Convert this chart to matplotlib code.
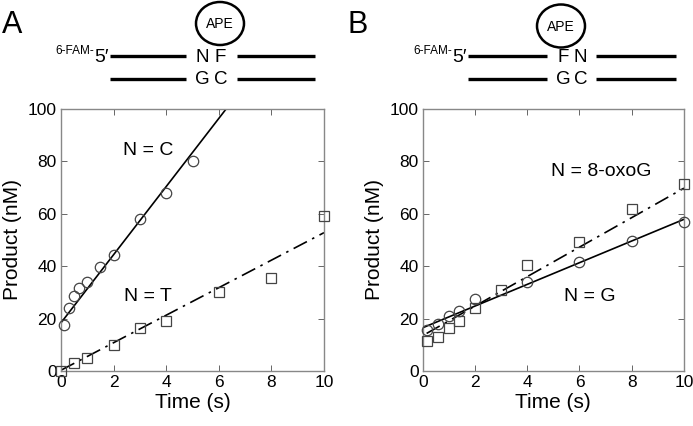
import numpy as np
import matplotlib
matplotlib.use("Agg")
from matplotlib import pyplot as plt
from matplotlib.patches import Ellipse

plt.rcParams['font.family'] = ['Liberation Sans', 'DejaVu Sans']

# panel A: N = C (circles), N = T (squares)
tA_c = [0.1, 0.3, 0.5, 0.7, 1.0, 1.5, 2.0, 3.0, 4.0, 5.0]
pA_c = [17.5, 23.9, 28.6, 31.5, 33.8, 39.8, 44.3, 57.9, 67.9, 80.0]
tA_t = [0, 0.5, 1, 2, 3, 4, 6, 8, 10]
pA_t = [0, 3.1, 5.0, 10.1, 16.5, 19.1, 30.1, 35.6, 59.1]
fitA_c = (18.4, 13.0)   # intercept, slope
fitA_t = (0.3, 5.25)

# panel B: N = G (circles), N = 8-oxoG (squares)
tB_g = [0.15, 0.6, 1.0, 1.4, 2.0, 4.0, 6.0, 8.0, 10.0]
pB_g = [15.6, 17.8, 21.1, 22.9, 27.4, 34.1, 41.7, 49.7, 57.0]
tB_o = [0.15, 0.6, 1.0, 1.4, 2.0, 3.0, 4.0, 6.0, 8.0, 10.0]
pB_o = [11.6, 13.1, 16.5, 19.2, 23.9, 30.9, 40.5, 49.4, 61.7, 71.4]
fitB_g = (16.5, 4.14)
fitB_o = (13.5, 5.63)

xticks = [0, 2, 4, 6, 8, 10]
yticks = [0, 20, 40, 60, 80, 100]

W, H = 693, 426
fig = plt.figure(figsize=(W / 100, H / 100), dpi=100)

dashdot = (0, (9, 3.5, 1.5, 3.5))
mk = dict(ls='none', mfc='none', mec='#444444', mew=0.9, zorder=3)


def setup(ax):
    ax.set_xlim(0, 10)
    ax.set_ylim(0, 100)
    ax.set_xticks(xticks)
    ax.set_yticks(yticks)
    ax.tick_params(direction='in', length=4, width=0.7, color='#666666',
                   top=True, right=True, labelsize=12.5, pad=3)
    for s in ax.spines.values():
        s.set_color('#888888')
        s.set_linewidth(1.0)
    ax.set_xlabel('Time (s)', fontsize=15, labelpad=2)
    ax.set_ylabel('Product (nM)', fontsize=15, labelpad=4)


def fitline(ax, fit, x0, x1, ls):
    xs = np.linspace(x0, x1, 50)
    ax.plot(xs, fit[0] + fit[1] * xs, color='black', lw=1.2, ls=ls, zorder=2)


axA = fig.add_axes([61 / W, 1 - 371 / H, 263 / W, 262 / H])
setup(axA)
fitline(axA, fitA_c, 0, 10, '-')
fitline(axA, fitA_t, 0, 10, dashdot)
axA.plot(tA_c, pA_c, marker='o', ms=7.5, **mk, clip_on=False)
axA.plot(tA_t, pA_t, marker='s', ms=7.5, **mk, clip_on=False)
axA.text(3.3, 84.3, 'N = C', fontsize=14, ha='center', va='center')
axA.text(3.3, 28.6, 'N = T', fontsize=14, ha='center', va='center')

axB = fig.add_axes([422.7 / W, 1 - 371 / H, 261.3 / W, 262 / H])
setup(axB)
fitline(axB, fitB_g, 0, 10, '-')
fitline(axB, fitB_o, 0.15, 10, dashdot)
axB.plot(tB_g, pB_g, marker='o', ms=7.5, **mk, clip_on=False)
axB.plot(tB_o, pB_o, marker='s', ms=7.5, **mk, clip_on=False)
axB.text(6.85, 76.3, 'N = 8-oxoG', fontsize=14, ha='center', va='center')
axB.text(6.4, 28.6, 'N = G', fontsize=14, ha='center', va='center')

# schematic on top, drawn in pixel coordinates
top = fig.add_axes([0, 0, 1, 1], zorder=-1)
top.set_xlim(0, W)
top.set_ylim(H, 0)
top.axis('off')


def duplex(x0, top_y, bot_y, l_end, r_start, x1, top_txt, top_x, bot_x, circ):
    for y in (top_y, bot_y):
        top.plot([x0, l_end], [y, y], color='black', lw=2.4, solid_capstyle='butt')
        top.plot([r_start, x1], [y, y], color='black', lw=2.4, solid_capstyle='butt')
    for ch, cx in zip(top_txt, top_x):
        top.text(cx, top_y + 1, ch, fontsize=13.5, ha='center', va='center')
    for ch, cx in zip('GC', bot_x):
        top.text(cx, bot_y + 1, ch, fontsize=13.5, ha='center', va='center')
    top.text(x0 - 16, top_y + 1, '6-FAM-', fontsize=8.5, ha='right', va='bottom')
    top.text(x0 - 1, top_y + 1, '5\u2032', fontsize=14, ha='right', va='center')
    cx, cy = circ
    top.add_patch(Ellipse((cx, cy), 48, 43, fill=False, lw=1.8, ec='black'))
    top.text(cx, cy + 1, 'APE', fontsize=10, ha='center', va='center')


duplex(110, 56, 79, 186, 237, 315, 'NF', [202.5, 220.5], [202.5, 221], (220, 23.5))
duplex(468, 56, 79, 547, 596, 676, 'FN', [563, 580], [563, 581], (561, 26))

fig.text(2, 33, 'A', fontsize=22, ha='left', va='baseline',
         transform=top.transData)
fig.text(348, 33, 'B', fontsize=22, ha='left', va='baseline',
         transform=top.transData)

fig.savefig('out.png', dpi=100)
